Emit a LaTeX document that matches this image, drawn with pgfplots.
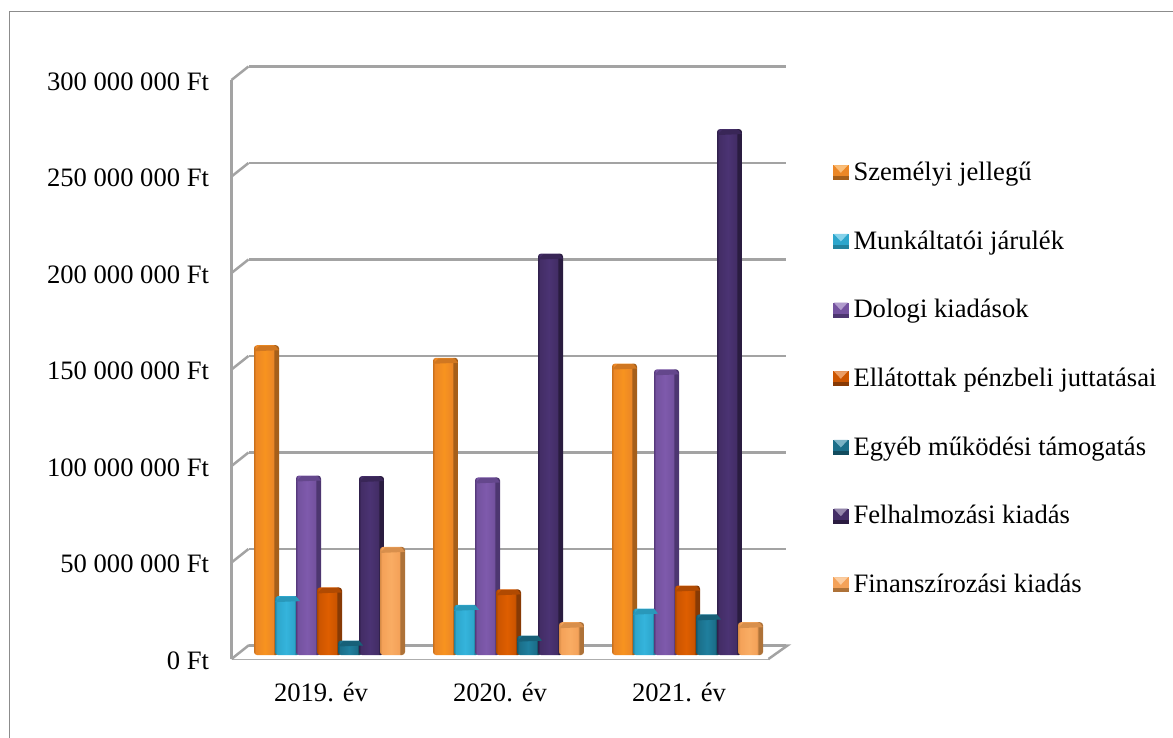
\documentclass[border=0pt]{standalone}
\usepackage{fontspec}
\setmainfont{Liberation Serif}
\usepackage{pgfplots}
\usepackage{pgfplotstable}
\usetikzlibrary{calc}
\pgfplotsset{compat=1.18}

% one pixel of the reference is one pt here
\definecolor{wall}{HTML}{A3A3A3}
\definecolor{frame}{HTML}{8C8C8C}

\pgfplotstableread{
x  szemelyi munkaltatoi dologi ellatottak egyeb felhalmozasi finansz
0  160.5    30.5        93     35         7.5   92.7         56
1  154      26          92     34         10    208          17
2  151      24          148    36         21    272.5        17
}\bardata

% name, left edge, face, highlight, right side
% tikz fits 25bp..75bp of a named shading to the path
\newcommand{\barcolors}[5]{%
  \definecolor{#1face}{HTML}{#3}%
  \definecolor{#1edge}{HTML}{#2}%
  \definecolor{#1high}{HTML}{#4}%
  \definecolor{#1side}{HTML}{#5}%
  \pgfdeclarehorizontalshading{#1bar}{100bp}{%
    color(0bp)=(#1edge); color(25bp)=(#1edge); color(29bp)=(#1face);
    color(47bp)=(#1high); color(63bp)=(#1face); color(66bp)=(#1side);
    color(100bp)=(#1side)}%
}
\barcolors{org}{C9701C}{EC8726}{F7931F}{A65F1A}
\barcolors{cya}{23839F}{2DA6CC}{35B4DC}{23829E}
\barcolors{pur}{56397C}{74529F}{7E5AAC}{4D3670}
\barcolors{bro}{A94700}{CC5500}{DE5E00}{873A05}
\barcolors{tea}{13566A}{1B6E89}{1F7F9E}{124C5E}
\barcolors{dpu}{30204C}{432D66}{4B3373}{2A1C40}
\barcolors{pea}{D78B46}{F4A259}{F9AC63}{AE7238}

\pgfdeclareplotmark{barcap}{%
  \pgfpathmoveto{\pgfpoint{-12.5pt}{-6pt}}%
  \pgfpathlineto{\pgfpoint{-7pt}{-0.5pt}}%
  \pgfpathlineto{\pgfpoint{9pt}{-0.5pt}}%
  \pgfpathlineto{\pgfpoint{12.5pt}{-5pt}}%
  \pgfpathclose
  \pgfusepathqfill
}

% column, bar shift, colour name, legend text
\newcommand{\barseries}[4]{%
  \pgfplotsinvokeforeach{0,1,2}{%
    \addplot[ybar, bar width=25pt, bar shift=#2pt, draw=none, shading=#3bar,
      rounded corners=3pt, yshift=4pt, forget plot,
      restrict x to domain=##1:##1,
      mark=barcap,
      mark options={draw=none, fill=#3side!40!#3face, rounded corners=0pt, xshift=#2pt}]
      table[x=x, y=#1] {\bardata};
  }
  \addlegendimage{legend image code/.code={%
      \fill[#3side] (0pt,-5pt) rectangle (15pt,9pt);
      \fill[#3face] (0pt,9pt) -- (15pt,9pt) -- (15pt,-1pt) -- (0pt,-1pt) -- cycle;
      \fill[#3high!60!white] (1pt,9pt) -- (14pt,9pt) -- (7.5pt,2pt) -- cycle;
    }}
  \addlegendentry{#4}
}

\begin{document}
\begin{tikzpicture}[x=1pt, y=1pt]
\path[use as bounding box] (0,0) rectangle (1173,737);
\draw[frame, line width=1.5pt] (9.5,-2) -- (9.5,725.5) -- (1175,725.5);

\begin{axis}[
    at={(231.5pt,78pt)}, anchor=south west,
    scale only axis, width=537pt, height=579pt,
    xmin=-0.5, xmax=2.5,
    ymin=0, ymax=300,
    clip=false,
    axis x line=bottom, axis y line=left,
    axis line style={wall, line width=2.5pt, -},
    xtick={0,1,2},
    xticklabels={2019. év, 2020. év, 2021. év},
    ytick={0,50,100,150,200,250,300},
    yticklabels={0 Ft, 50 000 000 Ft, 100 000 000 Ft, 150 000 000 Ft,
      200 000 000 Ft, 250 000 000 Ft, 300 000 000 Ft},
    major tick length=0pt,
    tick label style={font=\fontsize{26.6}{30}\selectfont},
    yticklabel style={xshift=-19pt, yshift=-1.5pt},
    xticklabel style={yshift=-20pt},
    ymajorgrids,
    major grid style={wall, line width=2.5pt, xshift=17pt, yshift=13.5pt},
    legend style={
      at={(axis description cs:1.12,0.858)}, anchor=north west,
      draw=none, fill=none, inner sep=0pt,
      row sep=44.67pt,
      font=\fontsize{26.6}{30}\selectfont,
      nodes={inner sep=0pt, text height=18pt, text depth=6pt},
      /tikz/every odd column/.append style={column sep=5pt},
    },
    legend cell align=left,
]
% side walls and floor
\fill[white] (axis cs:-0.5,0) -- ++(17pt,13.5pt) -- ($(axis cs:2.5,0)+(19pt,13.5pt)$) -- (axis cs:2.5,0) -- cycle;
\draw[wall, line width=2.5pt] (axis cs:-0.5,0) -- ++(17pt,13.5pt) -- ($(axis cs:2.5,0)+(19pt,13.5pt)$) -- (axis cs:2.5,0);
\pgfplotsinvokeforeach{50,100,150,200,250,300}{
  \draw[wall, line width=2.5pt] (axis cs:-0.5,#1) -- ++(17pt,13.5pt);
}
\barseries{szemelyi}{-54.5}{org}{Személyi jellegű}
\barseries{munkaltatoi}{-33.5}{cya}{Munkáltatói járulék}
\barseries{dologi}{-12.5}{pur}{Dologi kiadások}
\barseries{ellatottak}{8.5}{bro}{Ellátottak pénzbeli juttatásai}
\barseries{egyeb}{29.5}{tea}{Egyéb működési támogatás}
\barseries{felhalmozasi}{50.5}{dpu}{Felhalmozási kiadás}
\barseries{finansz}{71.5}{pea}{Finanszírozási kiadás}
\end{axis}
\end{tikzpicture}
\end{document}
